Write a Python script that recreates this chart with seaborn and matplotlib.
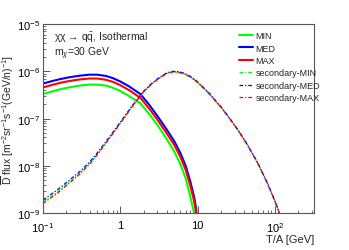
import seaborn as sns
import matplotlib.pyplot as plt
import matplotlib.ticker as mticker
import pandas as pd
import numpy as np

# primary antideuteron flux, chi chi -> q qbar, m_chi = 30 GeV
t_prim = [0.1, 0.13, 0.17, 0.22, 0.3, 0.4, 0.5, 0.65, 0.8, 1.0, 1.3, 1.82, 2.4,
          3.0, 4.0, 5.0, 6.0, 7.0, 8.0, 9.0, 9.6, 10.0]
prim_med = [5.5e-7, 6.2e-7, 6.9e-7, 7.5e-7, 8.1e-7, 8.5e-7, 8.5e-7, 8.0e-7, 7.2e-7,
            6.1e-7, 4.8e-7, 3.3e-7, 1.9e-7, 1.15e-7, 5.8e-8, 3.3e-8, 1.85e-8, 1.0e-8,
            4.8e-9, 2.2e-9, 1.2e-9, 2e-10]
prim_max = [4.55e-7, 5.15e-7, 5.75e-7, 6.25e-7, 6.75e-7, 7.05e-7, 7.05e-7, 6.65e-7,
            6.0e-7, 5.1e-7, 4.0e-7, 2.75e-7, 1.58e-7, 9.6e-8, 4.8e-8, 2.75e-8, 1.53e-8,
            8.2e-9, 3.9e-9, 1.8e-9, 1.0e-9, 1.5e-10]
prim_min = [3.3e-7, 3.75e-7, 4.2e-7, 4.6e-7, 5.0e-7, 5.25e-7, 5.25e-7, 5.0e-7, 4.5e-7,
            3.85e-7, 3.0e-7, 2.1e-7, 1.22e-7, 7.4e-8, 3.65e-8, 2.0e-8, 1.07e-8, 5.4e-9,
            2.3e-9, 1.0e-9, 2e-10, 1e-10]

# secondary background
t_sec = [0.1, 0.15, 0.2, 0.3, 0.4, 0.5, 0.7, 1.0, 1.4, 2.0, 2.5, 3.0, 3.5, 4.0, 4.7,
         5.5, 6.5, 8.0, 10, 14, 20, 25, 34, 45, 60, 80, 100, 113, 125]
sec_med = [1.9e-9, 3.0e-9, 4.4e-9, 7.6e-9, 1.2e-8, 1.85e-8, 3.8e-8, 8.4e-8, 1.8e-7,
           3.8e-7, 5.4e-7, 6.9e-7, 8.2e-7, 9.3e-7, 1.0e-6, 9.9e-7, 9.3e-7, 7.9e-7,
           6.0e-7, 3.5e-7, 1.78e-7, 1.11e-7, 5.5e-8, 2.65e-8, 1.15e-8, 4.3e-9,
           1.8e-9, 1.06e-9, 6.5e-10]
sec_max = [1.6e-9, 2.55e-9, 3.8e-9, 6.7e-9, 1.08e-8, 1.68e-8, 3.55e-8, 8.0e-8, 1.73e-7,
           3.7e-7, 5.25e-7, 6.7e-7, 7.95e-7, 9.0e-7, 9.8e-7, 9.7e-7, 9.1e-7, 7.75e-7,
           5.9e-7, 3.43e-7, 1.75e-7, 1.09e-7, 5.4e-8, 2.6e-8, 1.13e-8, 4.2e-9,
           1.76e-9, 1.04e-9, 6.4e-10]
sec_min = [1.72e-9, 2.7e-9, 4.0e-9, 7.0e-9, 1.1e-8, 1.72e-8, 3.55e-8, 7.9e-8, 1.7e-7,
           3.6e-7, 5.15e-7, 6.55e-7, 7.8e-7, 8.85e-7, 9.5e-7, 9.4e-7, 8.85e-7, 7.5e-7,
           5.7e-7, 3.33e-7, 1.7e-7, 1.06e-7, 5.25e-8, 2.53e-8, 1.1e-8, 4.1e-9,
           1.72e-9, 1.02e-9, 6.2e-10]

sns.set_style('ticks')
plt.rcParams['font.family'] = ['Liberation Sans', 'DejaVu Sans']
plt.rcParams['mathtext.fontset'] = 'custom'
plt.rcParams['mathtext.rm'] = 'Liberation Sans'
plt.rcParams['mathtext.it'] = 'Liberation Sans:italic'
plt.rcParams['mathtext.bf'] = 'Liberation Sans:bold'

fig = plt.figure(figsize=(3.49, 2.51), dpi=100)
ax = fig.add_axes([0.123, 0.147, 0.777, 0.753])

series = [
    ('MIN', t_prim, prim_min, '#00ff00', '-', 1.5),
    ('MED', t_prim, prim_med, '#0000ff', '-', 1.5),
    ('MAX', t_prim, prim_max, '#ff0000', '-', 1.5),
    ('secondary-MIN', t_sec, sec_min, '#00ff00', (0, (3, 1.5, 1, 1.5)), 0.9),
    ('secondary-MED', t_sec, sec_med, '#0000ff', (0, (3, 1.5, 1, 1.5)), 0.9),
    ('secondary-MAX', t_sec, sec_max, '#ff0000', (0, (3, 1.5, 1, 1.5)), 0.9),
]
for name, t, f, c, ls, lw in series:
    df = pd.DataFrame({'T': t, 'flux': f})
    sns.lineplot(data=df, x='T', y='flux', color=c, lw=lw, ls=ls, label=name, ax=ax)

ax.set_xscale('log')
ax.set_yscale('log')
ax.set_xlim(0.1, 320)
ax.set_ylim(1e-9, 1e-5)

ax.xaxis.set_major_locator(mticker.FixedLocator([0.1, 1, 10, 100]))
ax.xaxis.set_major_formatter(mticker.FixedFormatter(['$10^{-1}$', '1', '10', '$10^{2}$']))
ax.xaxis.set_minor_locator(mticker.LogLocator(base=10, subs=np.arange(2, 10), numticks=20))
ax.xaxis.set_minor_formatter(mticker.NullFormatter())
ax.yaxis.set_major_locator(mticker.FixedLocator([1e-9, 1e-8, 1e-7, 1e-6, 1e-5]))
ax.yaxis.set_major_formatter(mticker.FixedFormatter(
    ['$10^{-9}$', '$10^{-8}$', '$10^{-7}$', '$10^{-6}$', '$10^{-5}$']))
ax.yaxis.set_minor_locator(mticker.LogLocator(base=10, subs=np.arange(2, 10), numticks=20))
ax.yaxis.set_minor_formatter(mticker.NullFormatter())

ax.tick_params(which='both', direction='in', labelsize=8, colors='#555555',
               labelcolor='black')
ax.tick_params(axis='x', pad=5)
ax.tick_params(axis='y', pad=2)
ax.tick_params(which='major', length=5, width=0.7)
ax.tick_params(which='minor', length=2.5, width=0.6)
for s in ax.spines.values():
    s.set_color('#555555')
    s.set_linewidth(0.8)

ax.set_xlabel('T/A [GeV]', fontsize=8, ha='right', labelpad=0)
ax.xaxis.set_label_coords(1.0, -0.11)
ax.set_ylabel(r'$\overline{\rm D}$ flux [m$^{-2}$sr$^{-1}$s$^{-1}$(GeV/n)$^{-1}$]',
              fontsize=7.5, labelpad=1)

ax.text(0.04, 0.93, r'χχ → q$\bar{\rm q}$, Isothermal', transform=ax.transAxes,
        fontsize=7.5, va='center', ha='left')
ax.text(0.04, 0.85, r'm$_{\chi}$=30 GeV', transform=ax.transAxes,
        fontsize=7.5, va='center', ha='left')

ax.legend(loc='upper left', bbox_to_anchor=(0.672, 0.89), bbox_transform=fig.transFigure,
          frameon=False, fontsize=6.5, handlelength=1.5, handletextpad=0.3,
          labelspacing=0.38, borderpad=0)

fig.savefig('out.png', dpi=100)
